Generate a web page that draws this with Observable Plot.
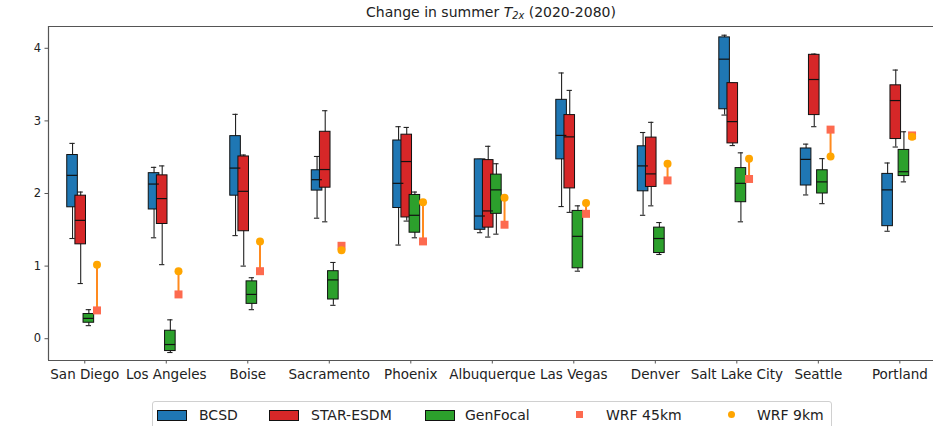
<!DOCTYPE html>
<html>
<head>
<meta charset="utf-8">
<script src="https://cdn.jsdelivr.net/npm/d3@7"></script>
<script src="https://cdn.jsdelivr.net/npm/@observablehq/plot@0.6"></script>
<style>
  body { margin: 0; background: #fff; font-family: "DejaVu Sans", sans-serif; color: #222; }
  #wrap { position: relative; width: 933px; height: 426px; overflow: hidden; }
  #title { position: absolute; top: 4px; left: 48px; width: 886px; text-align: center; font-size: 14px; line-height: 16px; }
  #ylabel { position: absolute; left: 21px; top: 193px; transform: translate(-50%, -50%) rotate(-90deg); font-size: 14px; white-space: nowrap; }
  #chart { position: absolute; left: 0; top: 20px; }
  sub { font-size: 70%; vertical-align: -0.25em; line-height: 0; }
  #legend { position: absolute; left: 152px; top: 401px; width: 680px; height: 30px; border: 1px solid #d0d0d0; border-radius: 3px; box-sizing: border-box; }
  .item { position: absolute; top: 5px; font-size: 14px; line-height: 16px; white-space: nowrap; }
  .patch { position: absolute; top: 8px; width: 28px; height: 9px; border: 1px solid #111; }
  .sq { position: absolute; top: 9px; width: 7px; height: 7px; }
  .dot { position: absolute; top: 9px; width: 7px; height: 7px; border-radius: 50%; }
</style>
</head>
<body>
<div id="wrap">
  <div id="title">Change in summer <i>T</i><sub><i>2x</i></sub> (2020-2080)</div>
  <div id="ylabel">Δ <i>T</i><sub><i>2x</i></sub> (K)</div>
  <div id="chart"></div>
  <div id="legend"></div>
</div>
<script>
// Cities along the x axis
const cities = ["San Diego", "Los Angeles", "Boise", "Sacramento", "Phoenix",
  "Albuquerque", "Las Vegas", "Denver", "Salt Lake City", "Seattle", "Portland"];

// Box statistics per city: [whisker low, Q1, median, Q3, whisker high]
const bcsd = [
  [1.38, 1.81, 2.25, 2.53, 2.69],
  [1.39, 1.78, 2.13, 2.28, 2.36],
  [1.42, 1.97, 2.35, 2.79, 3.09],
  [1.66, 2.04, 2.19, 2.32, 2.51],
  [1.29, 1.80, 2.14, 2.73, 2.92],
  [1.46, 1.50, 1.69, 2.47, 2.47],
  [1.82, 2.47, 2.80, 3.29, 3.66],
  [1.70, 2.03, 2.38, 2.65, 2.84],
  [3.08, 3.16, 3.85, 4.15, 4.18],
  [1.98, 2.11, 2.47, 2.62, 2.68],
  [1.48, 1.55, 2.05, 2.27, 2.42]
];
const starEsdm = [
  [0.76, 1.30, 1.63, 1.97, 2.02],
  [1.02, 1.58, 1.93, 2.25, 2.38],
  [1.00, 1.48, 2.03, 2.51, 2.53],
  [1.61, 2.08, 2.33, 2.85, 3.14],
  [1.62, 1.67, 2.44, 2.81, 2.91],
  [1.40, 1.53, 1.76, 2.46, 2.65],
  [1.74, 2.07, 2.78, 3.08, 3.42],
  [1.83, 2.09, 2.27, 2.77, 2.98],
  [2.66, 2.69, 2.99, 3.52, 3.52],
  [2.92, 3.08, 3.57, 3.91, 3.92],
  [2.64, 2.75, 3.28, 3.49, 3.70]
];
const genFocal = [
  [0.18, 0.22, 0.28, 0.34, 0.40],
  [-0.19, -0.17, -0.08, 0.11, 0.26],
  [0.40, 0.48, 0.61, 0.79, 0.84],
  [0.46, 0.54, 0.81, 0.93, 1.05],
  [1.39, 1.46, 1.70, 1.98, 2.02],
  [1.44, 1.72, 2.05, 2.26, 2.41],
  [0.93, 0.97, 1.41, 1.76, 1.83],
  [1.16, 1.18, 1.38, 1.53, 1.60],
  [1.61, 1.88, 2.14, 2.35, 2.56],
  [1.86, 2.00, 2.16, 2.32, 2.48],
  [2.16, 2.24, 2.30, 2.60, 2.85]
];
// WRF single-run changes
const wrf45 = [0.39, 0.61, 0.93, 1.28, 1.34, 1.57, 1.72, 2.18, 2.20, 2.88, 2.80];
const wrf9  = [1.02, 0.93, 1.34, 1.22, 1.88, 1.94, 1.87, 2.41, 2.48, 2.51, 2.78];

const yTicks = [0, 1, 2, 3, 4];

const models = [
  {name: "BCSD", color: "#1f77b4", stats: bcsd, offset: -0.15},
  {name: "STAR-ESDM", color: "#d62728", stats: starEsdm, offset: -0.05},
  {name: "GenFocal", color: "#2ca02c", stats: genFocal, offset: 0.05}
];
const wrfOffset = 0.15;
const boxW = 0.13, capW = 0.065;

const boxes = models.flatMap(m => m.stats.map((s, i) => ({
  model: m.name, color: m.color, x: i + m.offset,
  lo: s[0], q1: s[1], med: s[2], q3: s[3], hi: s[4]
})));
const wrf = cities.map((c, i) => ({x: i + wrfOffset, w45: wrf45[i], w9: wrf9[i]}));

const ink = "#222";
const spine = "#555";

const chart = Plot.plot({
  width: 933,
  height: 376,
  marginTop: 6,
  marginBottom: 36,
  marginLeft: 48,
  marginRight: 0,
  style: {fontFamily: "DejaVu Sans, sans-serif", fontSize: "13px", color: ink, background: "white"},
  x: {domain: [-0.445, 10.413]},
  y: {domain: [-0.3, 4.3]},
  marks: [
    // whiskers and caps
    Plot.ruleX(boxes, {x: "x", y1: "lo", y2: "hi", stroke: ink, strokeWidth: 1.1}),
    Plot.ruleY(boxes, {y: "lo", x1: d => d.x - capW / 2, x2: d => d.x + capW / 2, stroke: ink, strokeWidth: 1.1}),
    Plot.ruleY(boxes, {y: "hi", x1: d => d.x - capW / 2, x2: d => d.x + capW / 2, stroke: ink, strokeWidth: 1.1}),
    // interquartile boxes
    Plot.rect(boxes, {x1: d => d.x - boxW / 2, x2: d => d.x + boxW / 2, y1: "q1", y2: "q3",
      fill: "color", stroke: "#111", strokeWidth: 1}),
    // medians
    Plot.ruleY(boxes, {y: "med", x1: d => d.x - boxW / 2, x2: d => d.x + boxW / 2, stroke: "#111", strokeWidth: 1.2}),
    // WRF 45km to 9km connectors and markers
    Plot.link(wrf, {x1: "x", x2: "x", y1: "w45", y2: "w9", stroke: "#ff8a1e", strokeWidth: 2}),
    Plot.dot(wrf, {x: "x", y: "w45", symbol: "square", r: 4.5, fill: "#fd6a4f", stroke: "none"}),
    Plot.dot(wrf, {x: "x", y: "w9", r: 4, fill: "#ffa500", stroke: "none"}),
    // axes
    Plot.axisX({ticks: d3.range(cities.length), tickFormat: i => cities[i], tickSize: 3.5, tickPadding: 5.5,
      fontSize: 13.5, stroke: spine, label: null}),
    Plot.axisY({ticks: yTicks, tickFormat: d3.format("d"), tickSize: 3.5, tickPadding: 4,
      fontSize: 11.5, stroke: spine, label: null}),
    // axes frame (left, top, bottom)
    Plot.ruleY([-0.3, 4.3], {stroke: spine, strokeWidth: 1.2}),
    Plot.ruleX([-0.445], {stroke: spine, strokeWidth: 1.2})
  ]
});
document.getElementById("chart").appendChild(chart);

// Legend
const legend = document.getElementById("legend");
const legendItems = [
  {kind: "patch", color: models[0].color, mx: 4, label: "BCSD", tx: 46},
  {kind: "patch", color: models[1].color, mx: 116, label: "STAR-ESDM", tx: 158},
  {kind: "patch", color: models[2].color, mx: 272, label: "GenFocal", tx: 312},
  {kind: "sq", color: "#fd6a4f", mx: 423, label: "WRF 45km", tx: 453},
  {kind: "dot", color: "#ffa500", mx: 575, label: "WRF 9km", tx: 604}
];
for (const it of legendItems) {
  const m = document.createElement("div");
  m.className = it.kind;
  m.style.left = it.mx + "px";
  m.style.background = it.color;
  legend.appendChild(m);
  const t = document.createElement("div");
  t.className = "item";
  t.style.left = it.tx + "px";
  t.textContent = it.label;
  legend.appendChild(t);
}
</script>
</body>
</html>
